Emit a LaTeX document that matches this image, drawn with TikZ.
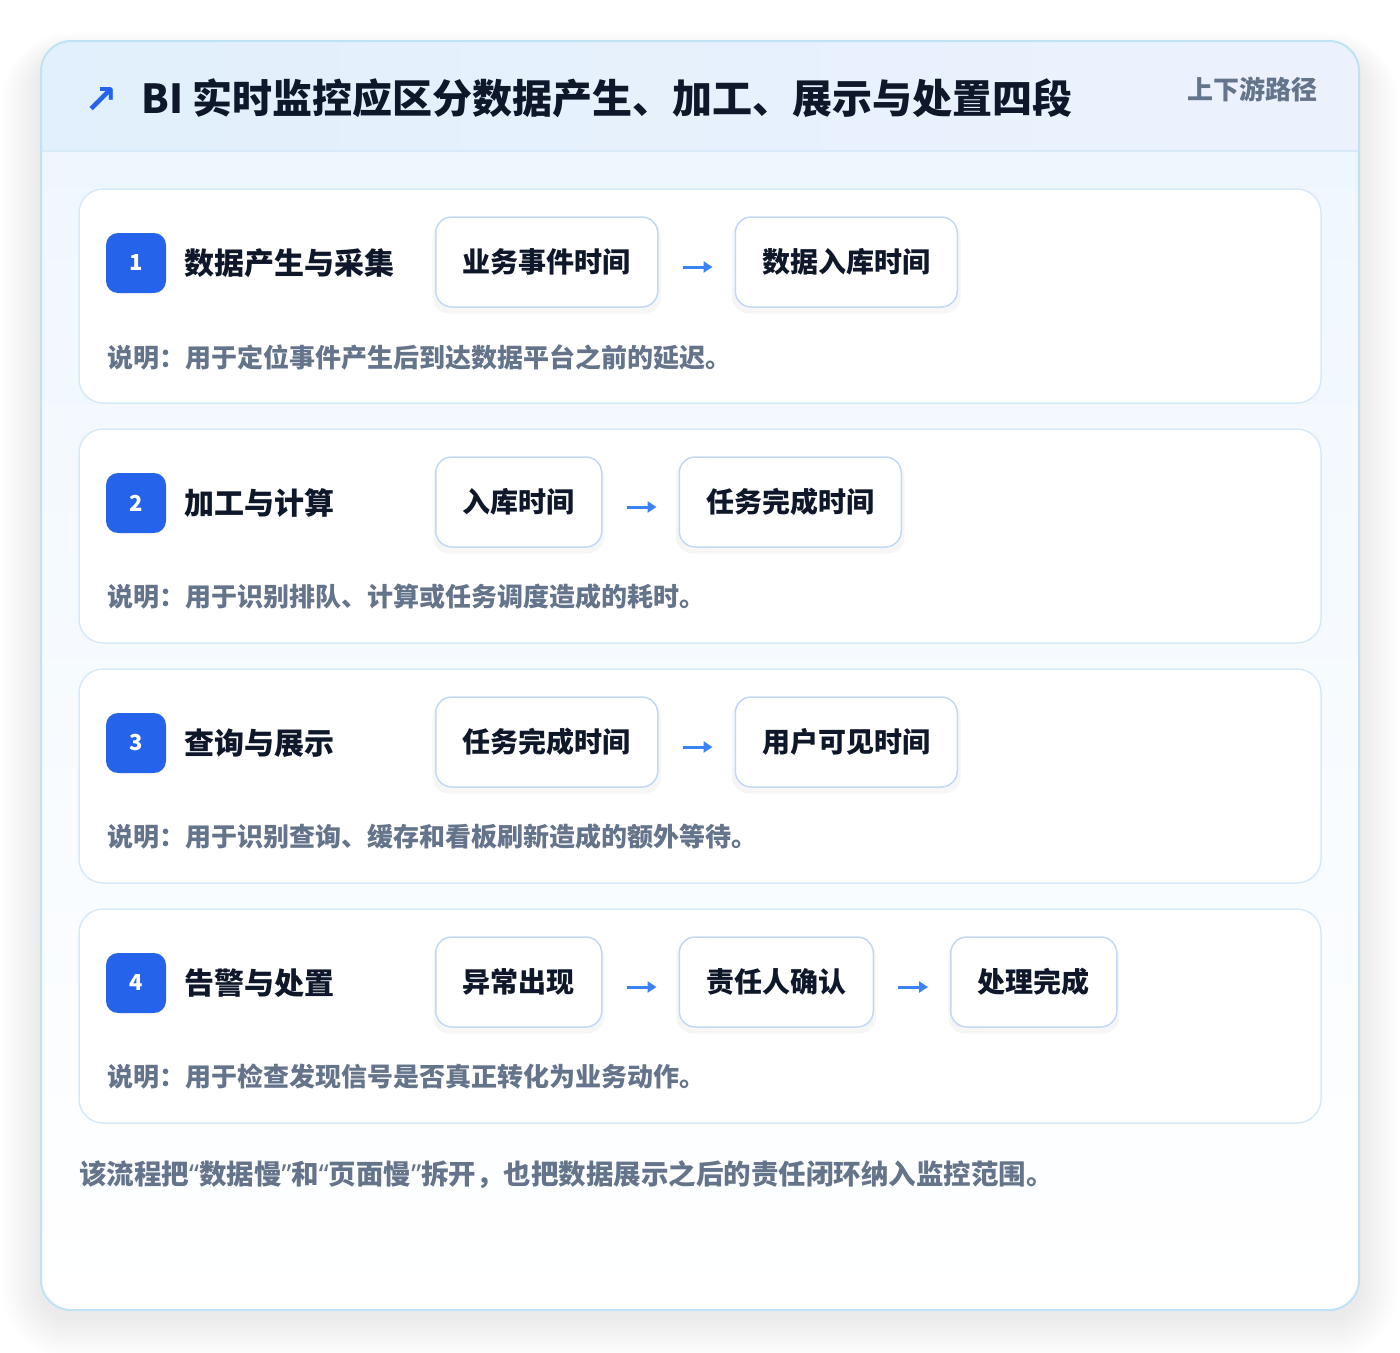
\documentclass[tikz,border=0pt]{standalone}
\usepackage{fontspec}
\setmainfont{Noto Sans CJK SC}
\newfontfamily\symfont{DejaVu Sans}
\newfontfamily\quotefont{Noto Sans}
\usetikzlibrary{positioning,shadows,arrows.meta}
\definecolor{cardline}{HTML}{BFE3F5}
\definecolor{boxline}{HTML}{C2D8F4}
\definecolor{stageline}{HTML}{D8EAF8}
\definecolor{ink}{HTML}{0F172A}
\definecolor{muted}{HTML}{64748B}
\definecolor{accent}{HTML}{2563EB}
\definecolor{arrowblue}{HTML}{3B82F6}
\definecolor{bodytop}{HTML}{EFF7FE}
\newcommand{\openq}{{\quotefont\bfseries “}}
\newcommand{\closeq}{{\quotefont\bfseries ”}}
\tikzstyle{stage} = [draw=stageline, line width=1.5pt, fill=white, rounded corners=24pt]
\tikzstyle{badge} = [fill=accent, rounded corners=12pt, minimum width=60pt, minimum height=60pt, text=white, font={\fontsize{22}{26}\selectfont\bfseries}]
\tikzstyle{stagetitle} = [anchor=west, text=ink, inner sep=0pt, font={\fontsize{30}{36}\selectfont\bfseries}]
\tikzstyle{tbox} = [draw=boxline, line width=1.5pt, fill=white, rounded corners=16pt, minimum height=90pt, inner xsep=27pt, text=ink, font={\fontsize{28}{34}\selectfont\bfseries}, general shadow={shadow xshift=0pt, shadow yshift=-5pt, shadow scale=1.03, fill=black, opacity=0.035}]
\tikzstyle{note} = [anchor=west, text=muted, inner sep=0pt, font={\fontsize{26}{32}\selectfont\bfseries}]
\tikzstyle{flow} = [-{Triangle[length=9pt,width=11pt]}, draw=arrowblue, line width=3pt, shorten <=24pt, shorten >=22pt]

\begin{document}
\begin{tikzpicture}[x=1pt,y=-1pt]
    \useasboundingbox[fill=white] (0,0) rectangle (1400,1352);
    % soft shadow of the outer card
    \foreach \s in {2,4,...,40}
      \fill[black, opacity=0.005, rounded corners=30pt+\s] (41-\s,56-\s*0.6) rectangle (1359+\s,1318+\s);
    % outer card
    \begin{scope}
      \clip[rounded corners=30pt] (41,41) rectangle (1359,1310);
      \shade[top color=bodytop, bottom color=white] (41,151) rectangle (1359,1310);
      \shade[left color={rgb,255:red,225;green,240;blue,252}, right color={rgb,255:red,236;green,242;blue,253}] (41,41) rectangle (1359,151);
      \draw[draw=stageline, line width=1.5pt] (41,151) -- (1359,151);
    \end{scope}
    \draw[draw=cardline, line width=2pt, rounded corners=30pt] (41,41) rectangle (1359,1310);
    % header
    \node[text=accent, font={\symfont\bfseries\fontsize{40}{44}\selectfont}](icon) at (101,100){↗};
    \node[anchor=west, text=ink, inner sep=0pt, font={\fontsize{40}{48}\selectfont\bfseries}](title) at (141,98){BI 实时监控应区分数据产生、加工、展示与处置四段};
    \node[anchor=east, text=muted, inner sep=0pt, font={\fontsize{26}{32}\selectfont\bfseries}](tag) at (1318,89){上下游路径};
    % stage 1
    \path[stage] (79,189) rectangle (1321,403);
    \node[badge](n1) at (136,263){1};
    \node[stagetitle](s1) at (184,263){数据产生与采集};
    \node[tbox, anchor=west](a1) at (435,262){业务事件时间};
    \node[tbox, right=76pt of a1](b1){数据入库时间};
    \node[note](d1) at (107,357){说明：用于定位事件产生后到达数据平台之前的延迟。};
    \draw[flow]([yshift=-5pt]a1.east)--([yshift=-5pt]b1.west);
    % stage 2
    \path[stage] (79,429) rectangle (1321,643);
    \node[badge](n2) at (136,503){2};
    \node[stagetitle](s2) at (184,503){加工与计算};
    \node[tbox, anchor=west](a2) at (435,502){入库时间};
    \node[tbox, right=76pt of a2](b2){任务完成时间};
    \node[note](d2) at (107,597){说明：用于识别排队、计算或任务调度造成的耗时。};
    \draw[flow]([yshift=-5pt]a2.east)--([yshift=-5pt]b2.west);
    % stage 3
    \path[stage] (79,669) rectangle (1321,883);
    \node[badge](n3) at (136,743){3};
    \node[stagetitle](s3) at (184,743){查询与展示};
    \node[tbox, anchor=west](a3) at (435,742){任务完成时间};
    \node[tbox, right=76pt of a3](b3){用户可见时间};
    \node[note](d3) at (107,837){说明：用于识别查询、缓存和看板刷新造成的额外等待。};
    \draw[flow]([yshift=-5pt]a3.east)--([yshift=-5pt]b3.west);
    % stage 4
    \path[stage] (79,909) rectangle (1321,1123);
    \node[badge](n4) at (136,983){4};
    \node[stagetitle](s4) at (184,983){告警与处置};
    \node[tbox, anchor=west](a4) at (435,982){异常出现};
    \node[tbox, right=76pt of a4](b4){责任人确认};
    \node[tbox, right=76pt of b4](c4){处理完成};
    \node[note](d4) at (107,1077){说明：用于检查发现信号是否真正转化为业务动作。};
    \draw[flow]([yshift=-5pt]a4.east)--([yshift=-5pt]b4.west);
    \draw[flow]([yshift=-5pt]b4.east)--([yshift=-5pt]c4.west);
    % footer
    \node[note, font={\fontsize{27.5}{32}\selectfont\bfseries}](foot) at (79,1175){该流程把\openq 数据慢\closeq 和\openq 页面慢\closeq 拆开，也把数据展示之后的责任闭环纳入监控范围。};
  \end{tikzpicture}
\end{document}
